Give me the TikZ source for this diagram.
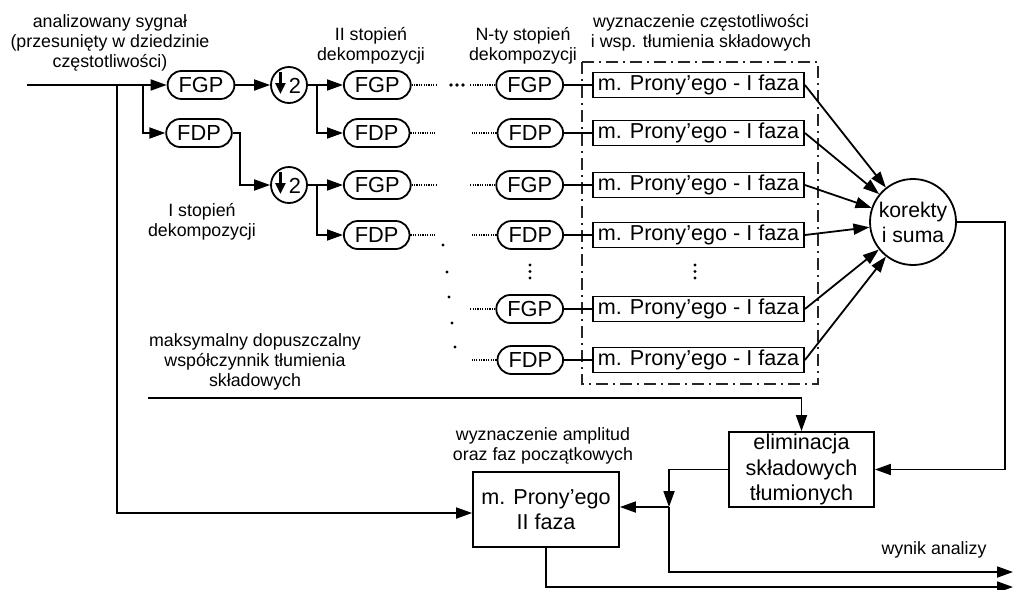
\documentclass[tikz,border=0pt]{standalone}
\usepackage{fontspec}
\setmainfont{Liberation Sans}
\usetikzlibrary{arrows.meta,calc}

\begin{document}
\begin{tikzpicture}[x=0.5pt,y=-0.5pt,
  line width=0.9pt,
  arr/.style={-{Triangle[length=8pt,width=5.5pt]}},
  lbl/.style={font=\fontsize{8.9}{10}\selectfont,align=center,inner sep=0pt},
  filt/.style={draw,rounded corners=7pt,minimum height=14pt,inner xsep=5.5pt,inner ysep=0pt,font=\fontsize{10.9}{12}\selectfont},
  dec/.style={draw,circle,minimum size=18pt,inner sep=0pt},
  proI/.style={draw,minimum width=105.5pt,minimum height=12.5pt,inner sep=0pt,font=\fontsize{10.8}{12}\selectfont},
  blk/.style={draw,align=center,inner sep=0pt,font=\fontsize{10.8}{12.6}\selectfont},
  dots/.style={dash pattern=on 0.6pt off 0.6pt,line width=0.6pt},
  dd/.style={line width=0.8pt,black!85,dash pattern=on 6pt off 2.5pt on 1pt off 2.5pt}
]
\fill[white] (0,0) rectangle (1015,589);
\useasboundingbox (0,0) rectangle (1015,589);

% labels
\node[lbl] (tin) at (110,43) {analizowany sygnał\\(przesunięty w dziedzinie\\częstotliwości)};
\node[lbl] (t2) at (371,46) {II stopień\\dekompozycji};
\node[lbl] (tN) at (523,46) {N-ty stopień\\dekompozycji};
\node[lbl] (tw) at (701,33) {wyznaczenie częstotliwości\\i wsp. tłumienia składowych};
\node[lbl] (t1) at (202,222) {I stopień\\dekompozycji};
\node[lbl] (tmax) at (255,362) {maksymalny dopuszczalny\\współczynnik tłumienia\\składowych};
\node[lbl] (tamp) at (543,446) {wyznaczenie amplitud\\oraz faz początkowych};
\node[lbl] (tres) at (934,550) {wynik analizy};

% first decomposition stage
\node[filt] (fgp1) at (201,85) {FGP};
\node[filt] (fdp1) at (199,133) {FDP};
\node[dec] (dc1) at (289,85) {};
\node[dec] (dc2) at (289,185) {};
\foreach \c in {dc1,dc2}{
  \draw[line width=1.2pt,-{Triangle[length=5.5pt,width=5pt]}] ([xshift=-4.3pt,yshift=6.5pt]\c.center) -- ([xshift=-4.3pt,yshift=-4.5pt]\c.center);
  \node[font=\fontsize{10.9}{12}\selectfont,inner sep=0pt] at ([xshift=3pt,yshift=-0.5pt]\c.center) {2};
}

% second stage
\node[filt,anchor=west] (fgp2) at (343,85) {FGP};
\node[filt,anchor=west] (fdp2) at (343,133) {FDP};
\node[filt,anchor=west] (fgp3) at (343,185) {FGP};
\node[filt,anchor=west] (fdp3) at (343,235) {FDP};

% N-th stage
\node[filt,anchor=east] (nf1) at (564,85) {FGP};
\node[filt,anchor=east] (nf2) at (564,133) {FDP};
\node[filt,anchor=east] (nf3) at (564,185) {FGP};
\node[filt,anchor=east] (nf4) at (564,235) {FDP};
\node[filt,anchor=east] (nf5) at (564,309) {FGP};
\node[filt,anchor=east] (nf6) at (564,360) {FDP};

% Prony, phase I
\draw[dd] (582,62) rectangle (818,384);
\node[proI] (p1) at (698.5,85) {m. Prony’ego - I faza};
\node[proI] (p2) at (698.5,133) {m. Prony’ego - I faza};
\node[proI] (p3) at (698.5,185) {m. Prony’ego - I faza};
\node[proI] (p4) at (698.5,235) {m. Prony’ego - I faza};
\node[proI] (p5) at (698.5,309) {m. Prony’ego - I faza};
\node[proI] (p6) at (698.5,360) {m. Prony’ego - I faza};

\node[draw,circle,minimum size=43pt,inner sep=0pt,align=center,font=\fontsize{10.6}{12.5}\selectfont] (kor) at (913,222) {korekty\\i suma};

\node[blk,minimum width=72.5pt,minimum height=37.5pt] (elim) at (801.5,469.5) {eliminacja\\składowych\\tłumionych};
\node[blk,minimum width=73pt,minimum height=37.5pt] (pr2) at (546,509.5) {m. Prony’ego\\II faza};

% input signal and first stage wiring
\coordinate (in) at (27,85);
\coordinate (ja) at (117,85);
\coordinate (jb) at (143,85);
\draw[arr] (in) -- (fgp1.west);
\draw[arr] (jb) |- (fdp1.west);
\draw[arr] (ja) |- ([yshift=-1.75pt]pr2.west);
\draw[arr] (fgp1.east) -- (dc1.west);
\coordinate (je) at (240,133);
\draw[arr] (fdp1.east) -- (je) |- (dc2.west);
\coordinate (jc) at (317,85);
\coordinate (jd) at (317,185);
\draw[arr] (dc1.east) -- (fgp2.west);
\draw[arr] (jc) |- (fdp2.west);
\draw[arr] (dc2.east) -- (fgp3.west);
\draw[arr] (jd) |- (fdp3.west);

% omitted stages
\foreach \n in {fgp2,fdp2,fgp3,fdp3}{\draw[dots] (\n.east) -- ++(25,0);}
\foreach \n in {nf1,nf2,nf3,nf4,nf5,nf6}{\draw[dots] (\n.west) -- ++(-25,0);}
\foreach \x in {451,457,463}{\fill (\x,85) circle (0.9pt);}
\foreach \x/\y in {443/245,447/272,449/297,452/323,455/347}{\fill (\x,\y) circle (0.8pt);}
\foreach \y in {265,271.5,278}{\fill (530,\y) circle (0.8pt); \fill (695,\y) circle (0.8pt);}

% into phase I and the sum
\foreach \i in {1,...,6}{
  \draw (nf\i.east) -- (p\i.west);
  \draw[arr] (p\i.east) -- (kor);
}

% elimination and phase II
\coordinate (kr) at (1005,222);
\draw[arr] (kor.east) -- (kr) |- (elim.east);
\coordinate (ms) at (148,398);
\draw[arr] (ms) -| (elim.north);
\coordinate (jn) at (669,507);
\draw[arr] (elim.west) -| (jn);
\draw[arr] (jn) -- (pr2.east |- jn);
\coordinate (o1) at (1013,572);
\draw[arr] (jn) |- (o1);
\coordinate (o2) at (1013,587);
\draw[arr] (pr2.south) |- (o2);
\end{tikzpicture}
\end{document}
